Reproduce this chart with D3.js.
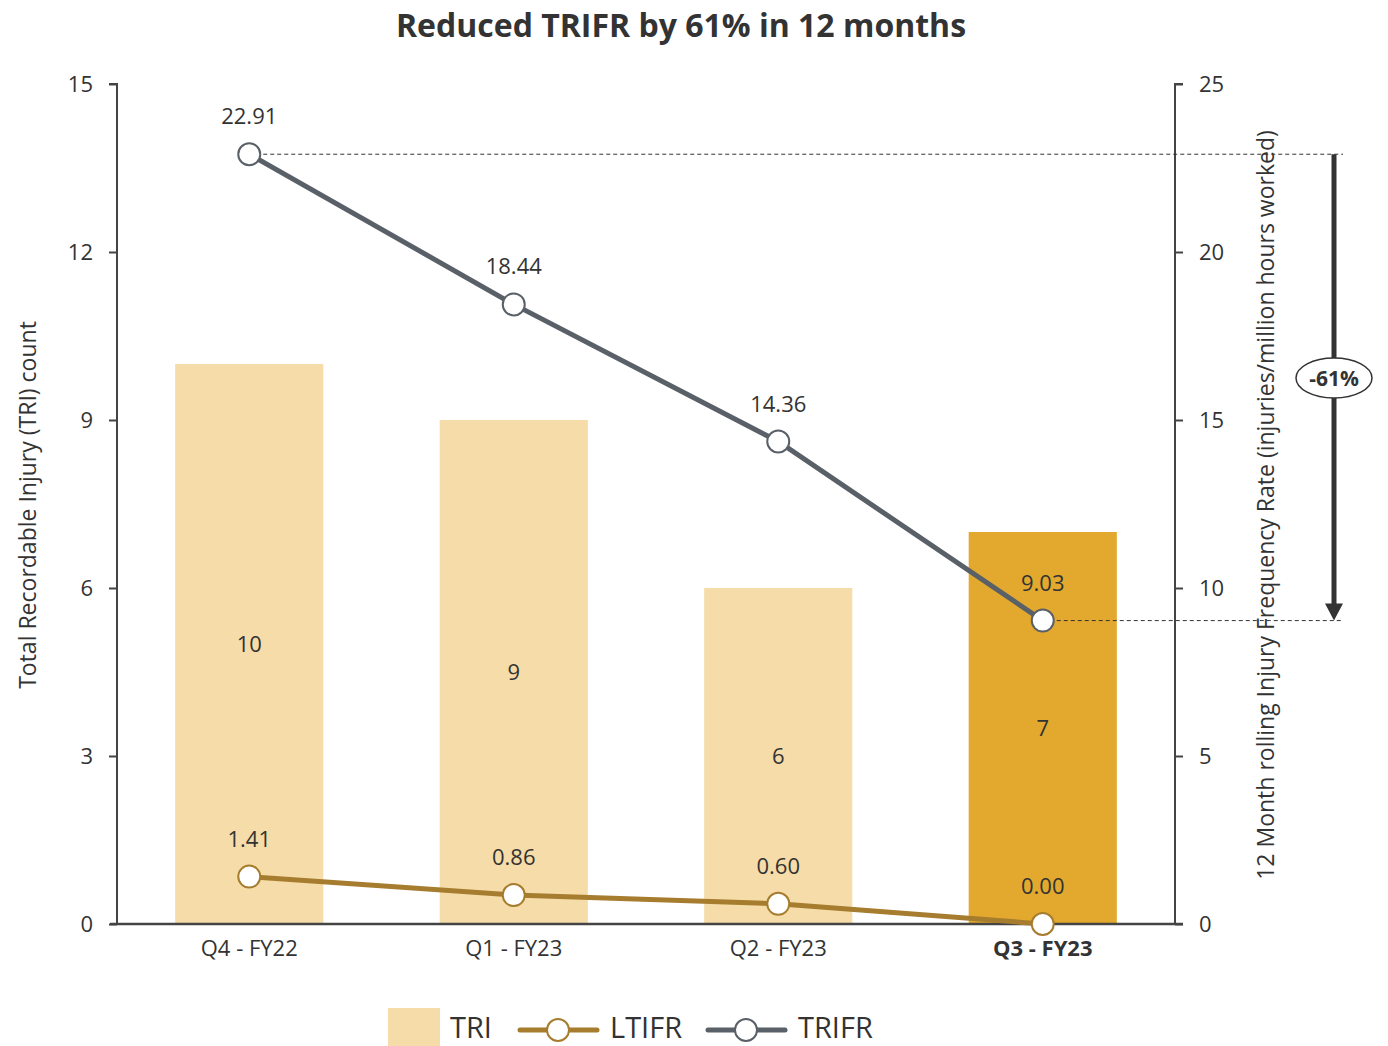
<!DOCTYPE html>
<html lang="en">
<head>
<meta charset="UTF-8">
<title>TRIFR</title>
<script src="https://cdn.jsdelivr.net/npm/d3@7"></script>
<style>
  body { margin: 0; background: #fff; }
  text { font-family: "Open Sans", "Noto Sans", sans-serif; fill: #333; }
</style>
</head>
<body>
<svg id="chart" width="1388" height="1046"></svg>
<script>
// data
var quarters = ["Q4 - FY22", "Q1 - FY23", "Q2 - FY23", "Q3 - FY23"];
var tri = [10, 9, 6, 7];
var ltifr = [1.41, 0.86, 0.60, 0.00];
var trifr = [22.91, 18.44, 14.36, 9.03];
var leftTicks = [0, 3, 6, 9, 12, 15];
var rightTicks = [0, 5, 10, 15, 20, 25];

var svg = d3.select("#chart");
var m = {left: 117, right: 1175, top: 84, bottom: 924};

var x = d3.scaleBand().domain(quarters).range([m.left, m.right]).paddingInner(0.44).paddingOuter(0.22);
var yL = d3.scaleLinear().domain([0, 15]).range([m.bottom, m.top]);
var yR = d3.scaleLinear().domain([0, 25]).range([m.bottom, m.top]);
var cx = function (d) { return x(d) + x.bandwidth() / 2; };

// title
svg.append("text").attr("x", 681).attr("y", 37).attr("text-anchor", "middle")
    .style("font-size", "32px").style("font-weight", "bold").text("Reduced TRIFR by 61% in 12 months");

// bars
svg.append("g").selectAll("rect").data(tri).enter().append("rect")
    .attr("x", function (d, i) { return x(quarters[i]); })
    .attr("y", function (d) { return yL(d); })
    .attr("width", x.bandwidth())
    .attr("height", function (d) { return yL(0) - yL(d); })
    .attr("fill", function (d, i) { return i === 3 ? "#E2A92E" : "#F5DCA8"; });

svg.append("g").selectAll("text").data(tri).enter().append("text")
    .attr("x", function (d, i) { return cx(quarters[i]); })
    .attr("y", function (d) { return yL(d / 2) + 8; })
    .attr("text-anchor", "middle").style("font-size", "22px")
    .text(function (d) { return d; });

// axes
var axL = svg.append("g").attr("transform", "translate(" + m.left + ",0)")
    .call(d3.axisLeft(yL).tickValues(leftTicks).tickSize(8).tickPadding(16));
var axR = svg.append("g").attr("transform", "translate(" + m.right + ",0)")
    .call(d3.axisRight(yR).tickValues(rightTicks).tickSize(8).tickPadding(16));
[axL, axR].forEach(function (a) {
    a.select(".domain").attr("stroke", "#444").attr("stroke-width", 2);
    a.selectAll(".tick line").attr("stroke", "#444").attr("stroke-width", 2);
    a.selectAll(".tick text").style("font-size", "22px").style("font-family", "Open Sans, sans-serif").attr("fill", "#333");
});
axL.select(".domain").attr("d", "M-8," + m.top + "H0V" + m.bottom);
axR.select(".domain").attr("d", "M8," + m.top + "H0V" + m.bottom);

svg.append("line").attr("x1", 110).attr("x2", 1183).attr("y1", m.bottom).attr("y2", m.bottom)
    .attr("stroke", "#444").attr("stroke-width", 2.5);

svg.append("g").selectAll("text").data(quarters).enter().append("text")
    .attr("x", cx).attr("y", 956).attr("text-anchor", "middle")
    .style("font-size", "22px").style("font-weight", function (d, i) { return i === 3 ? "bold" : "normal"; })
    .text(function (d) { return d; });

// axis titles
svg.append("text").attr("transform", "translate(36,505) rotate(-90)").attr("text-anchor", "middle")
    .style("font-size", "23px").text("Total Recordable Injury (TRI) count");
svg.append("text").attr("transform", "translate(1274,505) rotate(-90)").attr("text-anchor", "middle")
    .style("font-size", "23px").text("12 Month rolling Injury Frequency Rate (injuries/million hours worked)");

// reference dashes and arrow
var first = trifr[0], last = trifr[trifr.length - 1];
svg.append("line").attr("x1", cx(quarters[0])).attr("x2", 1343).attr("y1", yR(first)).attr("y2", yR(first))
    .attr("stroke", "#333").attr("stroke-width", 1).attr("stroke-dasharray", "4,3");
svg.append("line").attr("x1", cx(quarters[3])).attr("x2", 1343).attr("y1", yR(last)).attr("y2", yR(last))
    .attr("stroke", "#333").attr("stroke-width", 1).attr("stroke-dasharray", "4,3");
var ax = 1334;
svg.append("line").attr("x1", ax).attr("x2", ax).attr("y1", yR(first)).attr("y2", yR(last) - 16)
    .attr("stroke", "#333").attr("stroke-width", 5);
svg.append("path").attr("d", "M" + (ax - 9) + "," + (yR(last) - 17) + "L" + (ax + 9) + "," + (yR(last) - 17) + "L" + ax + "," + yR(last) + "Z")
    .attr("fill", "#333");
svg.append("ellipse").attr("cx", ax).attr("cy", 378).attr("rx", 38).attr("ry", 20)
    .attr("fill", "#fff").attr("stroke", "#333").attr("stroke-width", 1.5);
svg.append("text").attr("x", ax).attr("y", 386).attr("text-anchor", "middle")
    .style("font-size", "21px").style("font-weight", "bold").text("-" + Math.round((1 - last / first) * 100) + "%");

// lines
function drawSeries(vals, color) {
    var line = d3.line().x(function (d, i) { return cx(quarters[i]); }).y(function (d) { return yR(d); });
    svg.append("path").datum(vals).attr("d", line).attr("fill", "none")
        .attr("stroke", color).attr("stroke-width", 5);
    svg.append("g").selectAll("circle").data(vals).enter().append("circle")
        .attr("cx", function (d, i) { return cx(quarters[i]); }).attr("cy", yR)
        .attr("r", 11).attr("fill", "#fff").attr("stroke", color).attr("stroke-width", 2);
    svg.append("g").selectAll("text").data(vals).enter().append("text")
        .attr("x", function (d, i) { return cx(quarters[i]); }).attr("y", function (d) { return yR(d) - 30; })
        .attr("text-anchor", "middle").style("font-size", "22px")
        .text(function (d) { return d.toFixed(2); });
}
drawSeries(ltifr, "#A67C2E");
drawSeries(trifr, "#596067");

// legend
var lg = svg.append("g");
lg.append("rect").attr("x", 388).attr("y", 1008).attr("width", 52).attr("height", 38).attr("fill", "#F5DCA8");
lg.append("text").attr("x", 450).attr("y", 1038).style("font-size", "29px").text("TRI");
[["LTIFR", "#A67C2E", 520], ["TRIFR", "#596067", 708]].forEach(function (s) {
    lg.append("line").attr("x1", s[2]).attr("x2", s[2] + 77).attr("y1", 1030).attr("y2", 1030)
        .attr("stroke", s[1]).attr("stroke-width", 5).attr("stroke-linecap", "round");
    lg.append("circle").attr("cx", s[2] + 38).attr("cy", 1030).attr("r", 11)
        .attr("fill", "#fff").attr("stroke", s[1]).attr("stroke-width", 2);
    lg.append("text").attr("x", s[2] + 90).attr("y", 1038).style("font-size", "29px").text(s[0]);
});
</script>
</body>
</html>
